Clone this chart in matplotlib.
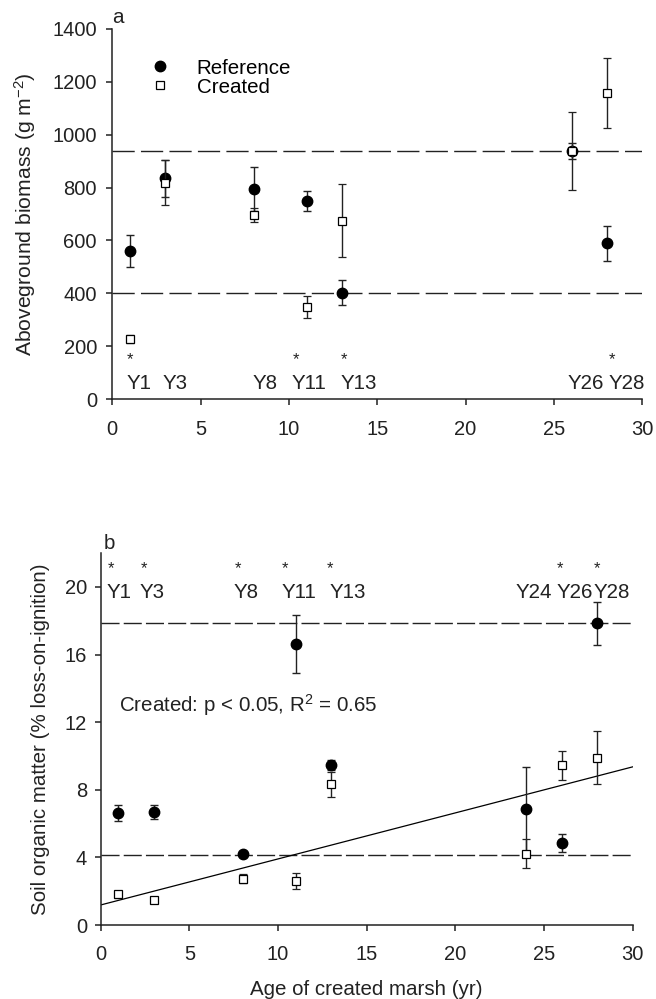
import numpy as np
import matplotlib
matplotlib.use('Agg')
import matplotlib.pyplot as plt
from matplotlib.lines import Line2D

plt.rcParams['font.family'] = ['Liberation Sans', 'DejaVu Sans']
plt.rcParams['mathtext.fontset'] = 'custom'
plt.rcParams['mathtext.rm'] = 'Liberation Sans'
plt.rcParams['mathtext.it'] = 'Liberation Sans'
plt.rcParams['mathtext.default'] = 'regular'

# ---- data: panel a, aboveground biomass (g m-2)
age_a = [1, 3, 8, 11, 13, 26, 28]
ref_bio = [560, 835, 795, 749, 402, 938, 589]
ref_bio_se = [60, 70, 84, 38, 48, 30, 67]
cre_bio = [226, 818, 696, 349, 675, 938, 1157]
cre_bio_se = [15, 85, 27, 41, 138, 149, 132]
bio_lines = [938, 400]
labels_a = ['Y1', 'Y3', 'Y8', 'Y11', 'Y13', 'Y26', 'Y28']
label_x_a = [0.8, 2.85, 7.95, 10.15, 12.9, 25.8, 28.1]
star_x_a = [1.0, 10.4, 13.1, 28.3]

# ---- data: panel b, soil organic matter (% LOI)
age_b = [1, 3, 8, 11, 13, 24, 26, 28]
ref_som = [6.63, 6.69, 4.19, 16.62, 9.45, 6.86, 4.88, 17.84]
ref_som_se = [0.5, 0.4, 0.15, 1.72, 0.3, 2.5, 0.53, 1.25]
cre_som = [1.81, 1.51, 2.75, 2.6, 8.32, 4.23, 9.44, 9.89]
cre_som_se = [0.2, 0.15, 0.25, 0.45, 0.75, 0.88, 0.88, 1.57]
som_lines = [17.84, 4.17]
labels_b = ['Y1', 'Y3', 'Y8', 'Y11', 'Y13', 'Y24', 'Y26', 'Y28']
label_x_b = [0.35, 2.2, 7.5, 10.2, 12.9, 23.4, 25.7, 27.8]
star_x_b = [0.6, 2.45, 7.75, 10.4, 12.95, 25.9, 28.0]

dark = '#222222'
fs_tick = 14.5
fs_lab = 14.8

fig = plt.figure(figsize=(6.56, 9.99), dpi=100)
ax1 = fig.add_axes([0.171, 0.6006, 0.808, 0.3704])
ax2 = fig.add_axes([0.1535, 0.074, 0.811, 0.3724])


def style(ax, padx, pady):
    for s in ['top', 'right']:
        ax.spines[s].set_visible(False)
    for s in ['left', 'bottom']:
        ax.spines[s].set_color(dark)
        ax.spines[s].set_linewidth(1.1)
    ax.tick_params(axis='both', direction='out', length=4, width=1.1,
                   color=dark, labelsize=fs_tick, labelcolor=dark)
    ax.tick_params(axis='x', pad=padx)
    ax.tick_params(axis='y', pad=pady)


def points(ax, x, ref, ref_se, cre, cre_se):
    ax.errorbar(x, ref, yerr=ref_se, fmt='o', ms=7.5, mfc='black', mec='black',
                ecolor=dark, elinewidth=1, capsize=3, capthick=1, zorder=3)
    ax.errorbar(x, cre, yerr=cre_se, fmt='s', ms=6.2, mfc='white', mec='black',
                mew=0.9, ecolor=dark, elinewidth=1, capsize=3, capthick=1, zorder=4)


# ---- panel a
style(ax1, 11, 7)
for v in bio_lines:
    ax1.axhline(v, color=dark, lw=1, dashes=(16, 4.5), zorder=1)
points(ax1, age_a, ref_bio, ref_bio_se, cre_bio, cre_bio_se)
for lx, t in zip(label_x_a, labels_a):
    ax1.text(lx, 60, t, fontsize=fs_lab, ha='left', va='center', color=dark)
for sx in star_x_a:
    ax1.text(sx, 150, '*', fontsize=12, ha='center', va='center', color=dark)
ax1.set_xlim(0, 30)
ax1.set_ylim(0, 1400)
ax1.set_xticks(np.arange(0, 31, 5))
ax1.set_yticks(np.arange(0, 1401, 200))
ax1.set_ylabel('Aboveground biomass (g m$^{-2}$)', fontsize=15.2, color=dark)
ax1.yaxis.set_label_coords(-0.14, 0.5)
ax1.text(0.0, 1.005, 'a', transform=ax1.transAxes, fontsize=fs_lab,
         ha='left', va='bottom', color=dark)

handles = [Line2D([], [], ls='none', marker='o', ms=7.5, mfc='black', mec='black'),
           Line2D([], [], ls='none', marker='s', ms=6.2, mfc='white', mec='black', mew=0.9)]
ax1.legend(handles, ['Reference', 'Created'], loc='upper left',
           bbox_to_anchor=(0.07, 0.92), frameon=False, fontsize=fs_lab,
           handlelength=1, handletextpad=1.3, borderpad=0, borderaxespad=0,
           labelspacing=0)

# ---- panel b
style(ax2, 10, 5.7)
for v in som_lines:
    ax2.axhline(v, color=dark, lw=1, dashes=(13, 3), zorder=1)
slope, icpt = np.polyfit(age_b, cre_som, 1)
xx = np.array([0, 30])
ax2.plot(xx, icpt + slope * xx, color='black', lw=0.9, zorder=2)
points(ax2, age_b, ref_som, ref_som_se, cre_som, cre_som_se)
for lx, t in zip(label_x_b, labels_b):
    ax2.text(lx, 19.66, t, fontsize=fs_lab, ha='left', va='center', color=dark)
for sx in star_x_b:
    ax2.text(sx, 21.1, '*', fontsize=12, ha='center', va='center', color=dark)
ax2.text(1.03, 13.0, 'Created: p < 0.05, R$^2$ = 0.65', fontsize=fs_lab,
         ha='left', va='center', color=dark)
ax2.set_xlim(0, 30)
ax2.set_ylim(0, 22)
ax2.set_xticks(np.arange(0, 31, 5))
ax2.set_yticks(np.arange(0, 21, 4))
ax2.set_ylabel('Soil organic matter (% loss-on-ignition)', fontsize=fs_lab, color=dark)
ax2.yaxis.set_label_coords(-0.095, 0.5)
ax2.set_xlabel('Age of created marsh (yr)', fontsize=fs_lab, color=dark)
ax2.xaxis.set_label_coords(0.5, -0.148)
ax2.text(0.005, 1.0, 'b', transform=ax2.transAxes, fontsize=fs_lab,
         ha='left', va='bottom', color=dark)

fig.savefig('out.png', dpi=100)
